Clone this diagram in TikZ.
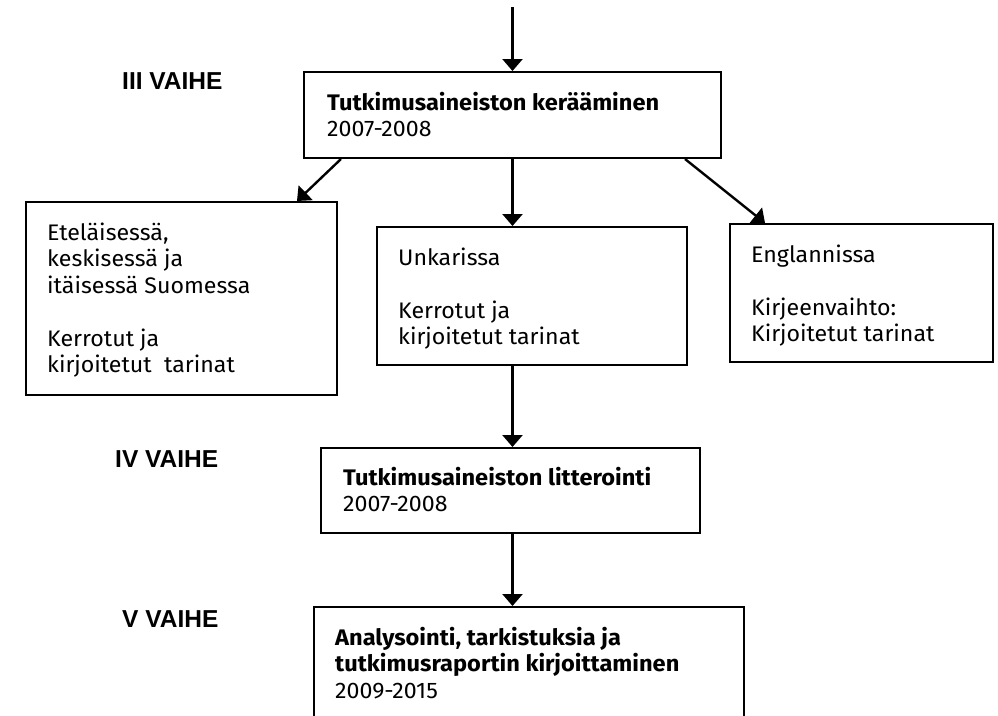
\documentclass[tikz,border=0pt]{standalone}
\usepackage{fontspec}
\setmainfont{Fira Sans}[UprightFeatures={FakeStretch=1.03},BoldFeatures={FakeStretch=1.05}]
\newfontfamily\headfont{Liberation Sans}
\usetikzlibrary{arrows.meta}
\tikzset{
  box/.style={draw, line width=2pt, rectangle, anchor=north west, inner sep=0pt},
  arr/.style={line width=2.4pt, -{Triangle[length=12pt,width=20pt]}},
  txt/.style={anchor=base west, inner sep=0pt, font=\fontsize{22.5}{26.5}\selectfont},
  head/.style={anchor=base west, inner sep=0pt, font=\headfont\bfseries\fontsize{24.5}{28}\selectfont},
}
\newcommand{\lines}[1]{\begin{tabular}[t]{@{}l@{}}#1\end{tabular}}
\begin{document}
\begin{tikzpicture}[x=1pt,y=-1pt]
\useasboundingbox (0,0) rectangle (998,715);
\clip (0,0) rectangle (998,715);
% boxes
\node[box, minimum width=417pt, minimum height=86pt] (b1) at (303,71) {};
\node[box, minimum width=311pt, minimum height=193pt] (bl) at (25,201) {};
\node[box, minimum width=310pt, minimum height=138pt] (bm) at (376,226) {};
\node[box, minimum width=263pt, minimum height=138pt] (br) at (729,223) {};
\node[box, minimum width=379pt, minimum height=85pt] (b4) at (320,447) {};
\node[box, minimum width=430pt, minimum height=140pt] (b5) at (313,606) {};
% texts
\node[txt] (t1) at (327,110) {\lines{\textbf{Tutkimusaineiston kerääminen}\\2007-2008}};
\node[txt] (tl) at (47,240) {\lines{Eteläisessä,\\keskisessä ja\\itäisessä Suomessa\\~\\Kerrotut ja\\kirjoitetut\ \ tarinat}};
\node[txt] (tm) at (398,265) {\lines{Unkarissa\\~\\Kerrotut ja\\kirjoitetut tarinat}};
\node[txt] (tr) at (751,262) {\lines{Englannissa\\~\\Kirjeenvaihto:\\Kirjoitetut tarinat}};
\node[txt] (t4) at (343,485) {\lines{\textbf{Tutkimusaineiston litterointi}\\2007-2008}};
\node[txt] (t5) at (335,645) {\lines{\textbf{Analysointi, tarkistuksia ja}\\\textbf{tutkimusraportin kirjoittaminen}\\2009-2015}};
% headings
\node[head] (h3) at (122,89) {III VAIHE};
\node[head] (h4) at (115,467) {IV VAIHE};
\node[head] (h5) at (122,627) {V VAIHE};
% arrows
\coordinate (start) at (b1.north |- 0,7);
\draw[arr] (start) -- (b1.north);
\draw[arr] (b1.south) -- (b1.south |- bm.north);
\draw[arr] ([xshift=38pt]b1.south west) -- ([xshift=-41pt]bl.north east);
\draw[arr] ([xshift=-37pt]b1.south east) -- ([xshift=36pt]br.north west);
\draw[arr] (b1.south |- bm.south) -- (b1.south |- b4.north);
\draw[arr] (b1.south |- b4.south) -- (b1.south |- b5.north);
\end{tikzpicture}
\end{document}
